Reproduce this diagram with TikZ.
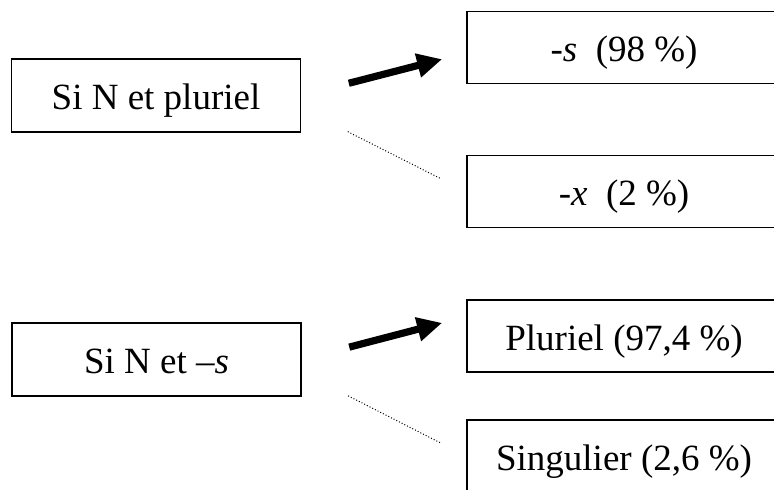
\documentclass[tikz,border=0pt]{standalone}
\usepackage{fontspec}
\setmainfont{Liberation Serif}
\usetikzlibrary{arrows.meta}

\tikzset{
  cond/.style={draw,line width=0.85pt,inner sep=0pt,
    minimum width=144.5pt,minimum height=36.5pt,
    text height=18pt,text depth=4pt,
    font=\fontsize{18.5pt}{22pt}\selectfont},
  res/.style={cond,minimum width=157pt,minimum height=36pt},
  strong/.style={-{Triangle[length=12.5pt,width=11.5pt]},line width=3.6pt,
    shorten <=24.5pt,shorten >=12.4pt},
  weak/.style={line width=0.5pt,dash pattern=on 0.5pt off 1pt,
    shorten <=26pt,shorten >=14pt}
}

\begin{document}
\begin{tikzpicture}[x=0.5pt,y=-0.5pt]
    \path[use as bounding box] (0,0) rectangle (774,489);
    \clip (0,0) rectangle (774,489);

    % pluriel
    \begin{scope}
      \node[cond] (pl) at (156,95.5) {Si N et pluriel};
      \node[res] (ess) at (624,47.5) {-\textit{s}\ \ (98~\%)};
      \node[res] (ix) at (624,191.5) {-\textit{x}\ \ (2~\%)};
      \draw[strong] (pl.east) -- (ess.182);
      \draw[weak] (pl.355) -- (ix.west);
    \end{scope}

    % -s
    \begin{scope}
      \node[cond] (fin) at (156.5,359.5) {Si N et \textit{--s}};
      \node[res] (plur) at (624,336) {Pluriel (97,4~\%)};
      \node[res] (sing) at (624,456) {Singulier (2,6~\%)};
      \draw[strong] (fin.east) -- (plur.173);
      \draw[weak] (fin.355) -- (sing.west);
    \end{scope}
\end{tikzpicture}
\end{document}
